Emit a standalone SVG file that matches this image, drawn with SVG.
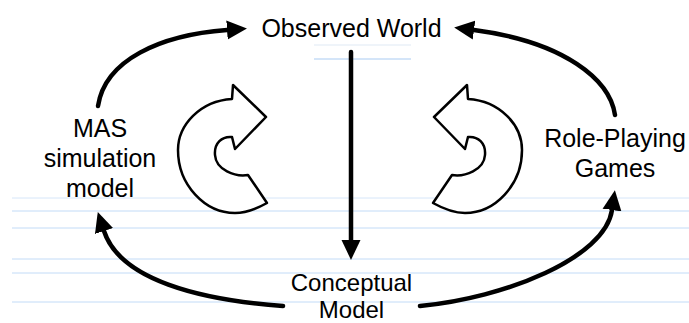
<svg xmlns="http://www.w3.org/2000/svg" width="689" height="323" viewBox="0 0 689 323">
<style>
.bg{stroke:#c2dbf7;stroke-width:1;fill:none}
.lbl{font-family:"Liberation Sans",Arial,sans-serif;font-size:25px;fill:#000;text-anchor:middle}
.conn{fill:none;stroke:#000;stroke-width:4.5;stroke-linecap:round}
.cyc{fill:#fff;stroke:#000;stroke-width:2.5;stroke-linejoin:round}
</style>
<defs>
<marker id="ah" viewBox="0 -10 21 20" refX="0" refY="0" markerWidth="21" markerHeight="20" markerUnits="userSpaceOnUse" orient="auto">
<path d="M0,-9.5 L20,0 L0,9.5 Z" fill="#000"/>
</marker>
</defs>
<g id="guides">
<line class="bg" x1="314" y1="45" x2="411" y2="45" style="stroke:#dfe9f4"/>
<line class="bg" x1="314" y1="59" x2="411" y2="59" style="stroke:#a9cbf2"/>
<line class="bg" x1="12" y1="198" x2="689" y2="198" style="stroke:#d6e6f9"/>
<line class="bg" x1="12" y1="211" x2="689" y2="211"/>
<line class="bg" x1="12" y1="228" x2="689" y2="228"/>
<line class="bg" x1="12" y1="259" x2="689" y2="259"/>
<line class="bg" x1="12" y1="273" x2="689" y2="273"/>
<line class="bg" x1="12" y1="302" x2="689" y2="302"/>
</g>
<g id="connectors">
<path class="conn" d="M98,106 C105,60 160,35 227,30" marker-end="url(#ah)"/>
<path class="conn" d="M615,115 C610,80 565,42 474,30" marker-end="url(#ah)"/>
<path class="conn" d="M351,52 L351,240" stroke-width="4" marker-end="url(#ah)"/>
<path class="conn" d="M283,306 C200,300 120,280 104,231" marker-end="url(#ah)"/>
<path class="conn" d="M420,306 C505,298 605,258 612,210" marker-end="url(#ah)"/>
</g>
<g id="cycle-left">
<path class="cyc" d="M266,117 L233,85 L232,99 C200,101 178,125 178,150 C178,185 205,213 235,213 C248,213 258,208 267,203 L248,175 C235,177 216,170 215,155 C214,143 222,136 232,137 L235,149 Z"/>
</g>
<g id="cycle-right">
<path class="cyc" d="M434,117 L467,85 L468,99 C500,101 522,125 522,150 C522,185 495,213 465,213 C452,213 442,208 433,203 L452,175 C465,177 484,170 485,155 C486,143 478,136 468,137 L465,149 Z"/>
</g>
<g id="observed-world">
<text class="lbl" x="351.5" y="37">Observed World</text>
</g>
<g id="mas-model">
<text class="lbl" x="100" y="137">MAS</text>
<text class="lbl" x="100" y="167">simulation</text>
<text class="lbl" x="100" y="197">model</text>
</g>
<g id="role-playing-games">
<text class="lbl" x="615" y="147">Role-Playing</text>
<text class="lbl" x="615" y="177">Games</text>
</g>
<g id="conceptual-model">
<text class="lbl" x="351.5" y="290.5" style="font-size:24px">Conceptual</text>
<text class="lbl" x="351.5" y="317.5" style="font-size:24px">Model</text>
</g>
</svg>
